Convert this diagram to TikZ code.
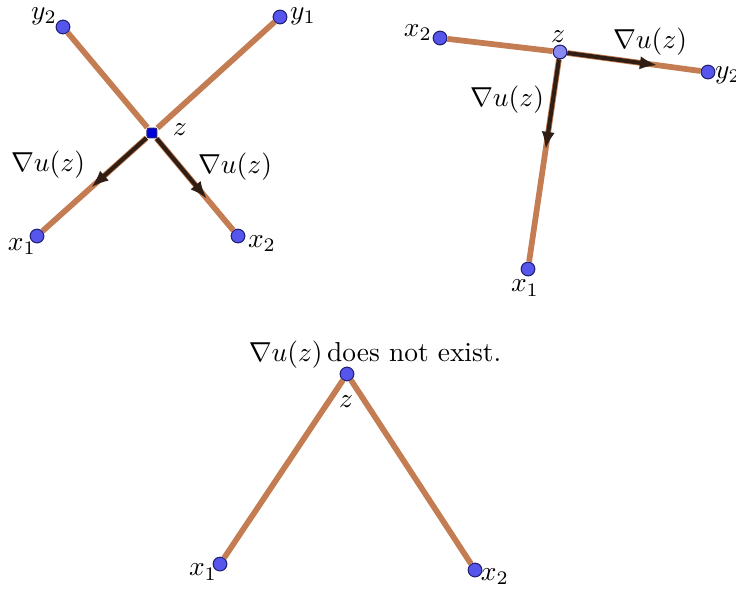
\documentclass[tikz,border=0pt]{standalone}
\usepackage{amssymb}
\usepackage{amsmath}
\usepackage{xcolor}
\usetikzlibrary{arrows.meta,calc,positioning}

\definecolor{segbrown}{RGB}{196,124,82}
\definecolor{gradbrown}{RGB}{48,30,20}
\definecolor{dotblue}{RGB}{86,86,236}
\definecolor{dotrim}{RGB}{34,34,120}

\begin{document}
\begin{tikzpicture}[scale=0.897,
  ptvert/.style={circle, fill=dotblue, draw=dotrim, line width=0.4pt, inner sep=0pt, minimum size=5pt},
  zdark/.style={rectangle, rounded corners=0.8pt, fill=blue!85!black, draw=dotrim, inner sep=0pt, minimum size=3.6pt},
  zlight/.style={ptvert, fill=dotblue!70!white},
  segedge/.style={segbrown, line width=2.1pt},
  gradarrow/.style={gradbrown, line width=1.5pt, -{Latex[length=6.5pt,width=4.8pt]}},
  lbl/.style={inner sep=1pt},
  caplbl/.style={inner sep=1pt}]

\useasboundingbox (0,0) rectangle (10.514,8.429);

% cross: two segments through z
\node[ptvert] (ay2) at (0.900,8.043) {};  \node[lbl] (ay2l) at (0.629,8.200) {$y_2$};
\node[ptvert] (ay1) at (4.000,8.186) {};  \node[lbl] (ay1l) at (4.329,8.200) {$y_1$};
\node[ptvert] (ax1) at (0.529,5.057) {};  \node[lbl] (ax1l) at (0.314,4.900) {$x_1$};
\node[ptvert] (ax2) at (3.400,5.057) {};  \node[lbl] (ax2l) at (3.743,4.943) {$x_2$};
\node[zdark]  (az)  at (2.171,6.529) {};  \node[lbl] (azl)  at (2.571,6.571) {$z$};

\draw[segedge] (ax1) -- (az) -- (ay1);
\draw[segedge] (ay2) -- (az) -- (ax2);

\coordinate (ag1) at ($(az)!0.53!(ax1)$);
\coordinate (ag2) at ($(az)!0.64!(ax2)$);
\draw[gradarrow] (az) -- (ag1);
\draw[gradarrow] (az) -- (ag2);
\node[lbl] (ag1l) at (0.686,6.071) {$\nabla u(z)$};
\node[lbl] (ag2l) at (3.357,6.043) {$\nabla u(z)$};

% T shape
\node[ptvert] (bx2) at (6.286,7.886) {};  \node[lbl] (bx2l) at (5.971,7.957) {$x_2$};
\node[ptvert] (by2) at (10.114,7.400) {}; \node[lbl] (by2l) at (10.400,7.357) {$y_2$};
\node[ptvert] (bx1) at (7.543,4.586) {};  \node[lbl] (bx1l) at (7.500,4.314) {$x_1$};
\node[zlight] (bz)  at (8.000,7.686) {};  \node[lbl] (bzl)  at (7.971,7.900) {$z$};

\draw[segedge] (bx2) -- (bz) -- (by2);
\draw[segedge] (bz) -- (bx1);

\coordinate (bgr) at ($(bz)!0.66!(by2)$);
\coordinate (bgd) at ($(bz)!0.45!(bx1)$);
\draw[gradarrow] (bz) -- (bgr);
\draw[gradarrow] (bz) -- (bgd);
\node[lbl] (bgrl) at (9.286,7.829) {$\nabla u(z)$};
\node[lbl] (bgdl) at (7.243,7.000) {$\nabla u(z)$};

% corner, no gradient
\node[ptvert] (cz)  at (4.957,3.086) {};  \node[lbl] (czl)  at (4.943,2.686) {$z$};
\node[ptvert] (cx1) at (3.143,0.371) {};  \node[lbl] (cx1l) at (2.900,0.257) {$x_1$};
\node[ptvert] (cx2) at (6.786,0.286) {};  \node[lbl] (cx2l) at (7.071,0.186) {$x_2$};

\draw[segedge] (cx1) -- (cz) -- (cx2);
\node[caplbl] (ccap) at (5.357,3.357) {$\nabla u(z)$\,does not exist.};

\end{tikzpicture}
\end{document}
